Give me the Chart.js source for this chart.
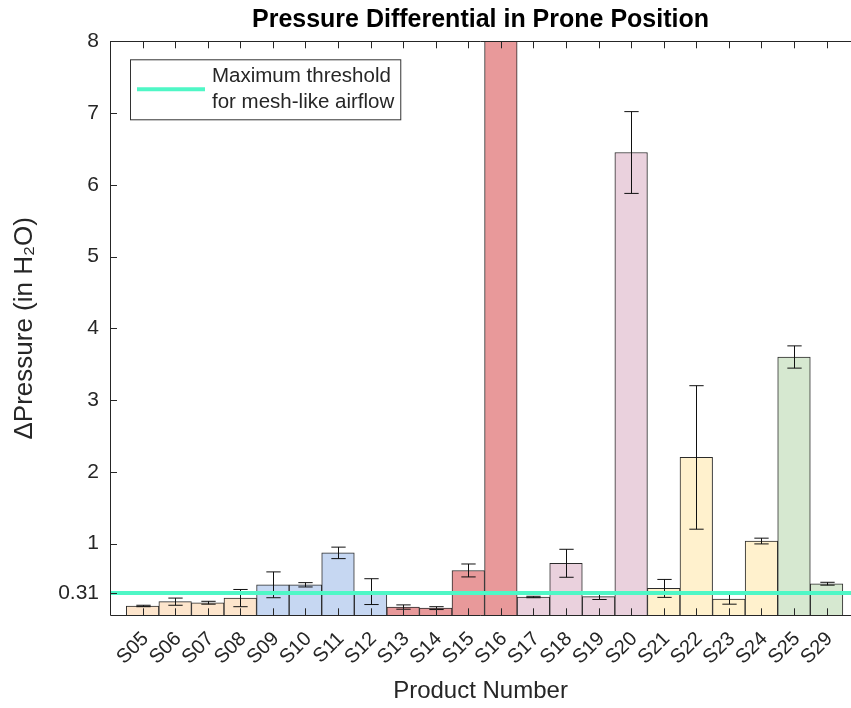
<!DOCTYPE html>
<html>
<head>
<meta charset="utf-8">
<script src="https://cdn.jsdelivr.net/npm/chart.js@4.4.1/dist/chart.umd.min.js"></script>
<style>
  html, body { margin: 0; padding: 0; background: #fff; overflow: hidden; }
  canvas { display: block; }
</style>
</head>
<body>
<canvas id="chart" width="851" height="708"></canvas>
<script>
// Data
const products = ['S05', 'S06', 'S07', 'S08', 'S09', 'S10', 'S11', 'S12', 'S13', 'S14', 'S15',
  'S16', 'S17', 'S18', 'S19', 'S20', 'S21', 'S22', 'S23', 'S24', 'S25', 'S29'];
const meanPressure = [0.13, 0.19, 0.175, 0.24, 0.425, 0.425, 0.87, 0.33, 0.115, 0.10, 0.625,
  9.5, 0.255, 0.725, 0.26, 6.45, 0.375, 2.20, 0.225, 1.035, 3.60, 0.44];
const errPressure = [0.01, 0.05, 0.02, 0.12, 0.18, 0.03, 0.08, 0.18, 0.03, 0.02, 0.09,
  0.5, 0.01, 0.195, 0.04, 0.57, 0.125, 1.0, 0.07, 0.04, 0.155, 0.02];
const productGroup = [0, 0, 0, 0, 1, 1, 1, 1, 2, 2, 2, 2, 3, 3, 3, 3, 4, 4, 4, 4, 5, 5];
const yTicks = [0.31, 1, 2, 3, 4, 5, 6, 7, 8];
const threshold = 0.31;
const thresholdLabel = ['Maximum threshold', 'for mesh-like airflow'];
const xMax = 22.75; // figure is cropped on the right

// Styling
const groupColors = ['#fde5cc', '#c6d7f2', '#e8999a', '#ead1dd', '#fff1cd', '#d6e8d0'];
const ink = '#262626';
const lineColor = '#4ff7c6';
const font = "'Liberation Sans', Arial, Helvetica, sans-serif";

// Error bars, box, inward ticks and legend (MATLAB style)
const axesBox = {
  id: 'axesBox',
  afterDatasetDraw(chart, args) {
    if (args.index !== 0) return;
    const { ctx, chartArea } = chart;
    const xs = chart.scales.x, ys = chart.scales.y;
    ctx.save();
    ctx.beginPath();
    ctx.rect(chartArea.left, chartArea.top, chartArea.right - chartArea.left, chartArea.bottom - chartArea.top);
    ctx.clip();
    ctx.strokeStyle = '#111';
    ctx.lineWidth = 1;
    const cap = xs.getPixelForValue(1.22) - xs.getPixelForValue(1);
    meanPressure.forEach((v, i) => {
      const x = Math.round(xs.getPixelForValue(i + 1)) + 0.5;
      const yHi = ys.getPixelForValue(v + errPressure[i]);
      const yLo = ys.getPixelForValue(v - errPressure[i]);
      ctx.beginPath();
      ctx.moveTo(x, yHi); ctx.lineTo(x, yLo);
      ctx.moveTo(x - cap, yHi); ctx.lineTo(x + cap, yHi);
      ctx.moveTo(x - cap, yLo); ctx.lineTo(x + cap, yLo);
      ctx.stroke();
    });
    ctx.restore();
  },
  afterDraw(chart) {
    const { ctx, chartArea: a } = chart;
    const xs = chart.scales.x, ys = chart.scales.y;
    const tl = 7;
    ctx.save();
    ctx.strokeStyle = ink;
    ctx.lineWidth = 1;
    ctx.beginPath();
    xs.ticks.forEach(t => {
      const x = Math.round(xs.getPixelForValue(t.value)) + 0.5;
      ctx.moveTo(x, a.bottom); ctx.lineTo(x, a.bottom - tl);
      ctx.moveTo(x, a.top); ctx.lineTo(x, a.top + tl);
    });
    ys.ticks.forEach(t => {
      const y = Math.round(ys.getPixelForValue(t.value)) + 0.5;
      ctx.moveTo(a.left, y); ctx.lineTo(a.left + tl, y);
    });
    // left, top and bottom sides of the axes box
    const L = Math.round(a.left) + 0.5, T = Math.round(a.top) + 0.5, B = Math.round(a.bottom) + 0.5;
    ctx.moveTo(a.right, T); ctx.lineTo(L, T); ctx.lineTo(L, B); ctx.lineTo(a.right, B);
    ctx.stroke();

    // legend
    const ds = chart.data.datasets[1];
    ctx.font = '20.5px ' + font;
    const textW = Math.max(...thresholdLabel.map(s => ctx.measureText(s).width));
    const bx = a.left + 20, by = a.top + 18;
    const bw = 82 + textW + 6, bh = 60;
    ctx.fillStyle = '#fff';
    ctx.fillRect(bx, by, bw, bh);
    ctx.strokeStyle = '#333';
    ctx.strokeRect(bx + 0.5, by + 0.5, bw, bh);
    ctx.strokeStyle = ds.borderColor;
    ctx.lineWidth = ds.borderWidth;
    ctx.beginPath();
    ctx.moveTo(bx + 7, by + bh / 2);
    ctx.lineTo(bx + 75, by + bh / 2);
    ctx.stroke();
    ctx.fillStyle = ink;
    ctx.textBaseline = 'middle';
    ctx.textAlign = 'left';
    thresholdLabel.forEach((s, i) => ctx.fillText(s, bx + 82, by + 17.5 + i * 26));
    ctx.restore();
  }
};

new Chart(document.getElementById('chart'), {
  type: 'bar',
  data: {
    datasets: [{
      label: 'Pressure',
      data: meanPressure.map((v, i) => ({ x: i + 1, y: v })),
      backgroundColor: productGroup.map(g => groupColors[g]),
      borderColor: '#2b2b2b',
      borderWidth: 1,
      barPercentage: 1,
      categoryPercentage: 1,
      order: 2
    }, {
      type: 'line',
      label: thresholdLabel.join(' '),
      data: [{ x: 0, y: threshold }, { x: xMax, y: threshold }],
      borderColor: lineColor,
      borderWidth: 4,
      pointRadius: 0,
      order: 1
    }]
  },
  options: {
    responsive: false,
    animation: false,
    layout: { padding: { left: 0, right: 0, top: 0, bottom: 0 } },
    plugins: {
      legend: { display: false },
      tooltip: { enabled: false },
      title: {
        display: true,
        fullSize: false,
        text: 'Pressure Differential in Prone Position',
        color: '#000',
        font: { family: font, size: 25, weight: 'bold' },
        padding: { top: 5, bottom: 6.3 }
      }
    },
    scales: {
      x: {
        type: 'linear',
        offset: false,
        min: 0,
        max: xMax,
        grid: { display: false, drawTicks: false, offset: false },
        border: { display: false },
        afterBuildTicks: scale => { scale.ticks = products.map((p, i) => ({ value: i + 1 })); },
        afterFit: scale => {
          scale.height = 92.7;
          scale.paddingLeft = 0;
          scale.paddingRight = 0;
        },
        ticks: {
          autoSkip: false,
          minRotation: 45,
          maxRotation: 45,
          padding: 12,
          labelOffset: 3,
          color: ink,
          font: { family: font, size: 20 },
          callback: v => products[v - 1]
        },
        title: {
          display: true,
          text: 'Product Number',
          color: ink,
          font: { family: font, size: 24 },
          padding: { top: 0, bottom: 2 }
        }
      },
      y: {
        min: 0,
        max: 8,
        grid: { display: false, drawTicks: false },
        border: { display: false },
        afterBuildTicks: scale => { scale.ticks = yTicks.map(v => ({ value: v })); },
        afterFit: scale => {
          scale.width = 110;
          scale.paddingTop = 0;
          scale.paddingBottom = 0;
        },
        ticks: {
          padding: 11,
          color: ink,
          font: { family: font, size: 21 },
          callback: v => String(v)
        },
        title: {
          display: true,
          text: '\u0394Pressure (in H\u2082O)',
          color: ink,
          font: { family: font, size: 26 },
          padding: { top: 9, bottom: 0 }
        }
      }
    }
  },
  plugins: [axesBox]
});
</script>
</body>
</html>
